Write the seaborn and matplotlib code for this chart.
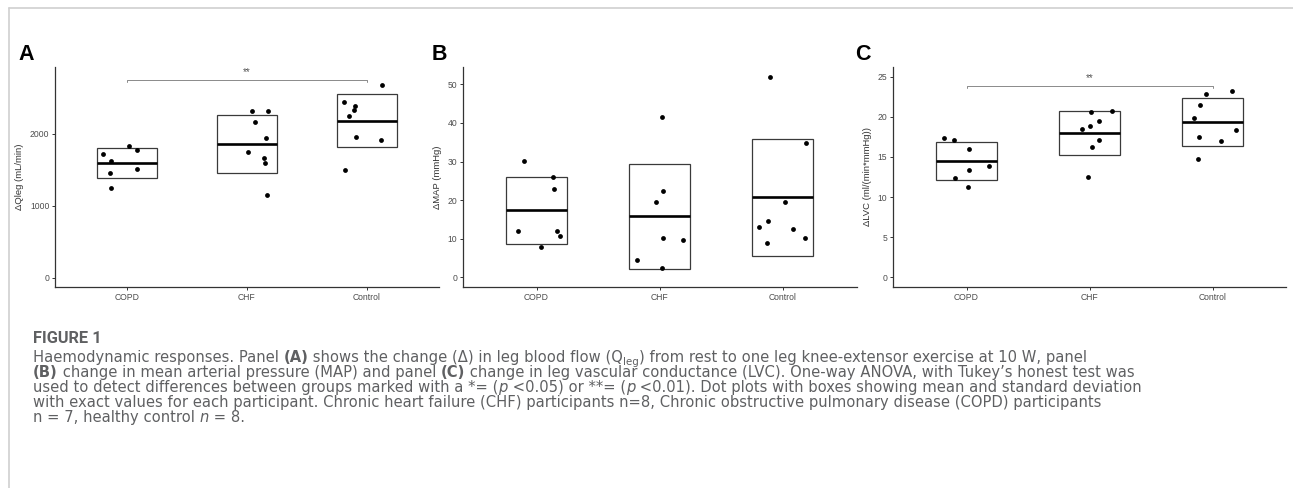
import numpy as np
import pandas as pd
import seaborn as sns
import matplotlib.pyplot as plt
from matplotlib.transforms import IdentityTransform
from matplotlib.lines import Line2D

# --- Données ---
groups = ["COPD", "CHF", "Control"]

# Panel A : delta Qleg (mL/min)
qleg_copd = [1721, 1619, 1833, 1772, 1456, 1516, 1242]
qleg_copd_jit = [-0.20, -0.13, 0.02, 0.08, -0.14, 0.08, -0.13]
qleg_chf = [2312, 2312, 2163, 1944, 1744, 1670, 1595, 1153]
qleg_chf_jit = [0.04, 0.18, 0.07, 0.16, 0.01, 0.14, 0.15, 0.17]
qleg_ctrl = [2679, 2442, 2381, 2330, 2242, 1953, 1921, 1502]
qleg_ctrl_jit = [0.13, -0.19, -0.10, -0.11, -0.15, -0.09, 0.12, -0.18]

# Panel B : delta MAP (mmHg)
map_copd = [30.1, 25.9, 22.9, 12.0, 12.0, 10.7, 7.9]
map_copd_jit = [-0.10, 0.13, 0.14, -0.15, 0.17, 0.19, 0.04]
map_chf = [41.6, 22.5, 19.5, 10.1, 9.8, 4.6, 2.4]
map_chf_jit = [0.02, 0.03, -0.03, 0.03, 0.19, -0.18, 0.02]
map_ctrl = [52.0, 34.8, 19.6, 14.7, 13.0, 12.5, 10.3, 8.9]
map_ctrl_jit = [-0.10, 0.19, 0.02, -0.12, -0.19, 0.08, 0.18, -0.13]

# Panel C : delta LVC (ml/(min*mmHg))
lvc_copd = [17.3, 17.05, 16.0, 13.4, 13.9, 12.4, 11.3]
lvc_copd_jit = [-0.18, -0.10, 0.02, 0.02, 0.18, -0.09, 0.01]
lvc_chf = [20.6, 20.7, 19.5, 18.8, 18.5, 17.05, 16.2, 12.5]
lvc_chf_jit = [0.01, 0.18, 0.08, 0.00, -0.06, 0.08, 0.02, -0.01]
lvc_ctrl = [22.8, 23.2, 21.45, 19.8, 18.4, 17.5, 17.0, 14.7]
lvc_ctrl_jit = [-0.05, 0.16, -0.10, -0.15, 0.19, -0.11, 0.07, -0.12]

# bracket: (groupe1, groupe2, hauteur, label)
sig_a = (0, 2, 2753, "**")
sig_c = (0, 2, 23.86, "**")

ylab_a = "ΔQleg (mL/min)"
ylab_b = "ΔMAP (mmHg)"
ylab_c = "ΔLVC (ml/(min*mmHg))"
yticks_a = [0, 1000, 2000]
yticks_b = [0, 10, 20, 30, 40, 50]
yticks_c = [0, 5, 10, 15, 20, 25]


def make_df(vals, jits):
    rows = []
    for gi, g in enumerate(groups):
        for v, j in zip(vals[gi], jits[gi]):
            rows.append({"group": g, "xpos": gi + j, "value": v})
    return pd.DataFrame(rows)


df_a = make_df([qleg_copd, qleg_chf, qleg_ctrl], [qleg_copd_jit, qleg_chf_jit, qleg_ctrl_jit])
df_b = make_df([map_copd, map_chf, map_ctrl], [map_copd_jit, map_chf_jit, map_ctrl_jit])
df_c = make_df([lvc_copd, lvc_chf, lvc_ctrl], [lvc_copd_jit, lvc_chf_jit, lvc_ctrl_jit])

sns.set_theme(style="white")
plt.rcParams["font.family"] = ["Liberation Sans", "DejaVu Sans"]

W, H = 1293, 488
fig = plt.figure(figsize=(W / 100, H / 100), dpi=100)


def px_axes(left, top, right, bottom):
    return fig.add_axes([left / W, (H - bottom) / H, (right - left) / W, (bottom - top) / H])


def panel(ax, df, ylim, yticks, ylab, sig=None, labelpad=4):
    stats = df.groupby("group", sort=False)["value"].agg(["mean", "std"]).reindex(groups)
    xs = np.arange(len(groups))
    ax.bar(xs, 2 * stats["std"], bottom=stats["mean"] - stats["std"], width=0.5,
           fill=False, edgecolor="#3a3a3a", linewidth=0.9, zorder=2)
    ax.hlines(stats["mean"], xs - 0.25, xs + 0.25, color="black", linewidth=1.9, zorder=3)
    sns.scatterplot(data=df, x="xpos", y="value", color="black", s=12, linewidth=0,
                    ax=ax, zorder=4, legend=False)
    if sig is not None:
        g1, g2, yb, lab = sig
        depth = (ylim[1] - ylim[0]) * 0.012
        ax.plot([g1, g1, g2, g2], [yb - depth, yb, yb, yb - depth], color="#8a8a8a", lw=0.7)
        ax.text((g1 + g2) / 2, yb + depth * 3, lab, ha="center", va="center",
                fontsize=7, color="#555555")
    ax.set_xlim(-0.6, 2.6)
    ax.set_ylim(*ylim)
    ax.set_xticks(xs)
    ax.set_xticklabels(groups)
    ax.set_yticks(yticks)
    ax.set_xlabel("")
    ax.set_ylabel(ylab, fontsize=6.8, color="#333333", labelpad=labelpad)
    for s in ["top", "right"]:
        ax.spines[s].set_visible(False)
    for s in ["left", "bottom"]:
        ax.spines[s].set_color("#333333")
        ax.spines[s].set_linewidth(0.9)
    ax.tick_params(axis="both", length=2.5, width=0.7, color="#333333", labelsize=6.2,
                   labelcolor="#4d4d4d", pad=1.5, bottom=True, left=True)
    ax.grid(False)
    ax.set_facecolor("white")


ax_a = px_axes(55, 67, 438.7, 287)
panel(ax_a, df_a, (-130, 2930), yticks_a, ylab_a, sig_a)
ax_b = px_axes(462.7, 67, 856.5, 287)
panel(ax_b, df_b, (-2.5, 54.5), yticks_b, ylab_b)
ax_c = px_axes(892.7, 67, 1286.3, 287)
panel(ax_c, df_c, (-1.2, 26.2), yticks_c, ylab_c, sig_c)

# lettres des panneaux
for lab, x in [("A", 18), ("B", 432), ("C", 855)]:
    fig.text(x, H - 60.5, lab, transform=IdentityTransform(), fontsize=15.5,
             fontweight="bold", color="black", va="baseline", ha="left")

# cadre gris
fig.add_artist(Line2D([8.5, W], [H - 7.5, H - 7.5], transform=IdentityTransform(),
                      color="#d0d0d0", lw=1.2))
fig.add_artist(Line2D([8.5, 8.5], [0, H - 7.5], transform=IdentityTransform(),
                      color="#d0d0d0", lw=1.2))

# --- Légende (texte) ---
cap_font = ["DejaVu Sans"]
cap_col = "#5f6062"
cap_size = 10.6
renderer = fig.canvas.get_renderer()


def measure(s, props):
    t = fig.text(0, 0, "|" + s + "|", transform=IdentityTransform(), **props)
    w1 = t.get_window_extent(renderer).width
    t.set_text("||")
    w2 = t.get_window_extent(renderer).width
    t.remove()
    return w1 - w2


def draw_line(x, y, parts):
    for s, kw in parts:
        kw = dict(kw)
        dy = kw.pop("dy", 0)
        props = dict(fontsize=cap_size, color=cap_col, family=cap_font)
        props.update(kw)
        fig.text(x, H - y - dy, s, transform=IdentityTransform(), va="baseline", **props)
        x += measure(s, props)


N = {}
B = {"fontweight": "bold"}
I = {"style": "italic"}
SUB = {"fontsize": cap_size * 0.7, "dy": 3}

fig.text(33, H - 343, "FIGURE 1", transform=IdentityTransform(), fontsize=11.8,
         fontweight="bold", color=cap_col, family=["Roboto", "DejaVu Sans"], va="baseline")

caption = [
    [("Haemodynamic responses. Panel ", N), ("(A)", B),
     (" shows the change (Δ) in leg blood flow (Q", N), ("leg", SUB),
     (") from rest to one leg knee-extensor exercise at 10 W, panel", N)],
    [("(B)", B), (" change in mean arterial pressure (MAP) and panel ", N), ("(C)", B),
     (" change in leg vascular conductance (LVC). One-way ANOVA, with Tukey’s honest test was", N)],
    [("used to detect differences between groups marked with a *= (", N), ("p", I),
     (" <0.05) or **= (", N), ("p", I),
     (" <0.01). Dot plots with boxes showing mean and standard deviation", N)],
    [("with exact values for each participant. Chronic heart failure (CHF) participants n=8, "
      "Chronic obstructive pulmonary disease (COPD) participants", N)],
    [("n = 7, healthy control ", N), ("n", I), (" = 8.", N)],
]
for i, parts in enumerate(caption):
    draw_line(33, 362 + 15 * i, parts)

plt.savefig("out.png", dpi=100, facecolor="white")
